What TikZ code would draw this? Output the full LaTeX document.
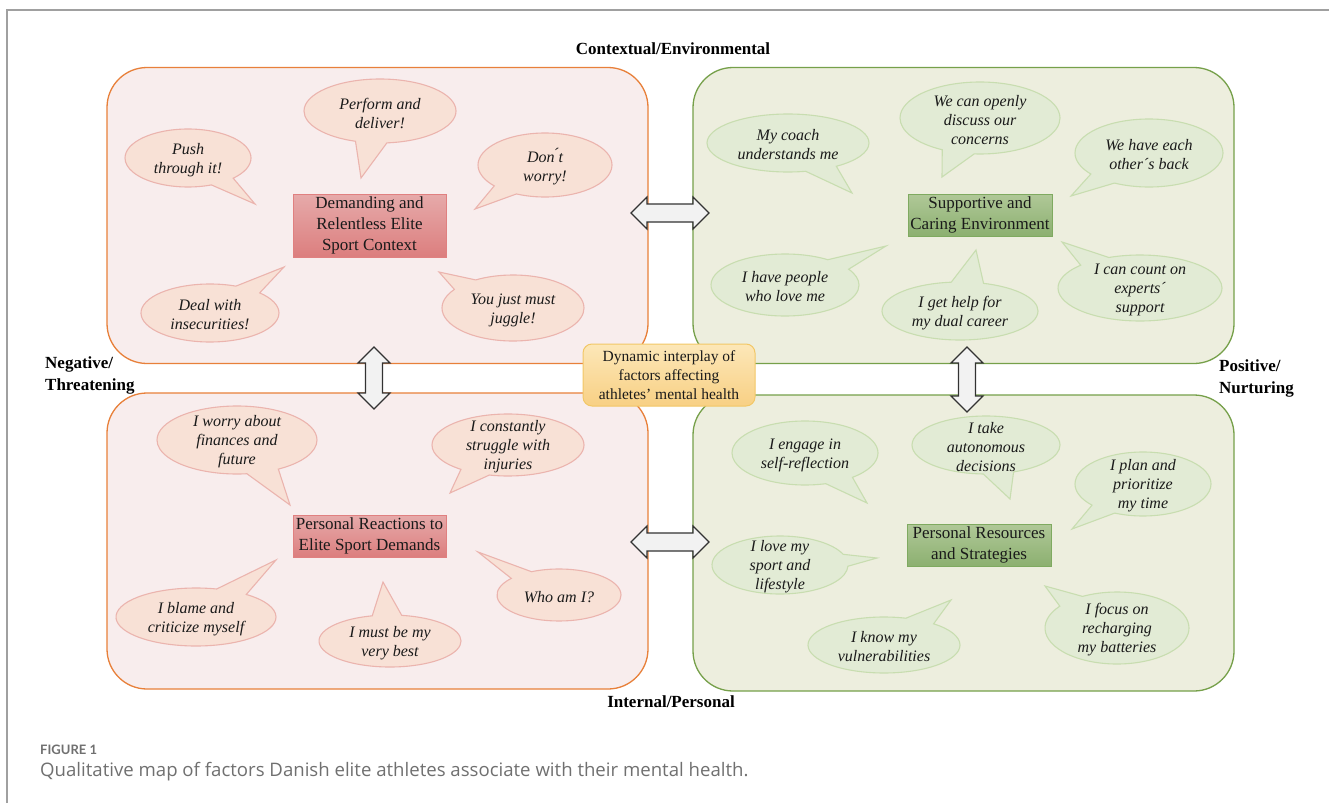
\documentclass[tikz,border=0pt]{standalone}
\usepackage{fontspec}
\setmainfont{Liberation Serif}
\newfontfamily\capfont{Lato}
\newfontfamily\capfontb{Open Sans}
\usetikzlibrary{shapes.callouts}
\definecolor{framec}{HTML}{A0A0A0}
\definecolor{oborder}{HTML}{E8803A}
\definecolor{ofill}{HTML}{F8EDED}
\definecolor{gborder}{HTML}{76A04A}
\definecolor{gfill}{HTML}{EDEEDE}
\definecolor{obubfill}{HTML}{F8E1D6}
\definecolor{obubline}{HTML}{EBB4AE}
\definecolor{gbubfill}{HTML}{E2EBD5}
\definecolor{gbubline}{HTML}{C8DDB0}
\definecolor{redtop}{HTML}{E6AAAA}
\definecolor{redbot}{HTML}{DC7E7E}
\definecolor{redline}{HTML}{E08080}
\definecolor{grntop}{HTML}{B0C898}
\definecolor{grnbot}{HTML}{8CB070}
\definecolor{grnline}{HTML}{7FAA60}
\definecolor{dyntop}{HTML}{FCE7B8}
\definecolor{dynbot}{HTML}{F8D084}
\definecolor{dynline}{HTML}{F2C766}
\definecolor{arrfill}{HTML}{F2F2F2}
\definecolor{arrline}{HTML}{333333}
\definecolor{txtc}{HTML}{1A1A1A}
\definecolor{capc}{HTML}{707070}
\newcommand\bubfont{\fontsize{16}{19}\selectfont\itshape}
\newcommand\boxfont{\fontsize{17}{21}\selectfont}
\newcommand\dynfont{\fontsize{15.5}{19}\selectfont}
\newcommand\hdfont{\fontsize{17}{22}\selectfont\bfseries}
\begin{document}
\begin{tikzpicture}[x=1pt,y=-1pt,
  bigbox/.style={draw, line width=1.3pt, rounded corners=40pt, minimum width=541pt, minimum height=296pt, inner sep=0pt},
  obig/.style={bigbox, draw=oborder, fill=ofill},
  gbig/.style={bigbox, draw=gborder, fill=gfill},
  bub/.style={ellipse callout, callout pointer arc=24, inner sep=0pt, line width=1.1pt},
  obub/.style={bub, draw=obubline, fill=obubfill},
  gbub/.style={bub, draw=gbubline, fill=gbubfill},
  btxt/.style={align=center, font=\bubfont, text=txtc, inner sep=0pt, yshift=-2pt},
  cbox/.style={rectangle, line width=1pt, inner sep=0pt, align=center, font=\boxfont, text=txtc},
  rbox/.style={cbox, draw=redline, top color=redtop, bottom color=redbot},
  gbox/.style={cbox, draw=grnline, top color=grntop, bottom color=grnbot},
  dynbox/.style={rectangle, rounded corners=9pt, draw=dynline, line width=1pt, top color=dyntop, bottom color=dynbot, align=center, font=\dynfont, text=txtc, inner sep=0pt},
  dbl/.style={draw=arrline, fill=arrfill, line width=1.1pt, line join=miter},
  hd/.style={font=\hdfont, text=black, inner sep=0pt, align=left}
]
\useasboundingbox[fill=white] (0,0) rectangle (1329,803);
% frame
\coordinate (fa) at (7,803);
\coordinate (fb) at (7,10);
\coordinate (fc) at (1329,10);
\draw[framec, line width=1.4pt] (fa) -- (fb) -- (fc);

% quadrants
\node[obig] (TL) at (377.5,215.5) {};
\node[gbig] (TR) at (963.5,215.5) {};
\node[obig] (BL) at (377.5,541) {};
\node[gbig] (BR) at (963.5,543) {};

% top-left bubbles
\node[obub, minimum width=152pt, minimum height=64pt, callout absolute pointer={(361,178)}, label={[btxt]center:{Perform and\\deliver!}}] (b1) at (380,111) {};
\node[obub, minimum width=126pt, minimum height=58pt, callout absolute pointer={(255,204)}, label={[btxt]center:{Push\\through it!}}] (b2) at (188,158) {};
\node[obub, minimum width=134pt, minimum height=64pt, callout absolute pointer={(475,209)}, label={[btxt]center:{Don\'{}t\\worry!}}] (b3) at (545,165) {};
\node[obub, minimum width=138pt, minimum height=58pt, callout absolute pointer={(284,267)}, label={[btxt]center:{Deal with\\insecurities!}}] (b4) at (210,313) {};
\node[obub, minimum width=142pt, minimum height=66pt, callout absolute pointer={(439,272)}, label={[btxt]center:{You just must\\juggle!}}] (b5) at (513,308) {};
\node[rbox, minimum width=153pt, minimum height=63pt] (c1) at (369.5,225.5) {Demanding and\\Relentless Elite\\Sport Context};

% top-right bubbles
\node[gbub, minimum width=160pt, minimum height=72pt, callout absolute pointer={(942,177)}, label={[btxt]center:{We can openly\\discuss our\\concerns}}] (g1) at (980,118) {};
\node[gbub, minimum width=162pt, minimum height=58pt, callout absolute pointer={(852,193)}, label={[btxt]center:{My coach\\understands me}}] (g2) at (788,143) {};
\node[gbub, minimum width=148pt, minimum height=68pt, callout absolute pointer={(1071,196)}, label={[btxt]center:{We have each\\other´s back}}] (g3) at (1149,153) {};
\node[gbub, minimum width=148pt, minimum height=62pt, callout absolute pointer={(886,246)}, label={[btxt]center:{I have people\\who love me}}] (g4) at (785,285) {};
\node[gbub, minimum width=156pt, minimum height=58pt, callout absolute pointer={(976,250)}, label={[btxt]center:{I get help for\\my dual career}}] (g5) at (960,311) {};
\node[gbub, minimum width=164pt, minimum height=66pt, callout absolute pointer={(1062,242)}, label={[btxt]center:{I can count on\\experts´\\support}}] (g6) at (1140,288) {};
\node[gbox, minimum width=144pt, minimum height=42pt] (c2) at (980,215) {Supportive and\\Caring Environment};

% bottom-left bubbles
\node[obub, minimum width=160pt, minimum height=68pt, callout absolute pointer={(290,505)}, label={[btxt]center:{I worry about\\finances and\\future}}] (b6) at (237,440) {};
\node[obub, minimum width=152pt, minimum height=62pt, callout absolute pointer={(450,493)}, label={[btxt]center:{I constantly\\struggle with\\injuries}}] (b7) at (508,445) {};
\node[obub, minimum width=160pt, minimum height=58pt, callout absolute pointer={(276,560)}, label={[btxt]center:{I blame and\\criticize myself}}] (b8) at (196,617) {};
\node[obub, minimum width=142pt, minimum height=52pt, callout absolute pointer={(383,582)}, label={[btxt]center:{I must be my\\very best}}] (b9) at (390,641) {};
\node[obub, minimum width=124pt, minimum height=52pt, callout absolute pointer={(478,552)}, label={[btxt]center:{Who am I?}}] (b10) at (559,595) {};
\node[rbox, minimum width=153pt, minimum height=42pt] (c3) at (369.5,536) {Personal Reactions to\\Elite Sport Demands};

% bottom-right bubbles
\node[gbub, minimum width=146pt, minimum height=64pt, callout absolute pointer={(867,503)}, label={[btxt]center:{I engage in\\self-reflection}}] (g7) at (805,453) {};
\node[gbub, minimum width=148pt, minimum height=58pt, callout absolute pointer={(1010,499)}, label={[btxt]center:{I take\\autonomous\\decisions}}] (g8) at (986,445) {};
\node[gbub, minimum width=136pt, minimum height=64pt, callout absolute pointer={(1072,529)}, label={[btxt]center:{I plan and\\prioritize\\my time}}] (g9) at (1143,484) {};
\node[gbub, minimum width=136pt, minimum height=58pt, callout absolute pointer={(877,558)}, label={[btxt]center:{I love my\\sport and\\lifestyle}}] (g10) at (780,565) {};
\node[gbub, minimum width=152pt, minimum height=56pt, callout absolute pointer={(951,600)}, label={[btxt]center:{I know my\\vulnerabilities}}] (g11) at (884,645) {};
\node[gbub, minimum width=144pt, minimum height=72pt, callout absolute pointer={(1045,586)}, label={[btxt]center:{I focus on\\recharging\\my batteries}}] (g12) at (1117,628) {};
\node[gbox, minimum width=144pt, minimum height=42pt] (c4) at (979,545) {Personal Resources\\and Strategies};

% double arrows
\draw[dbl] (631,213) -- (647,197) -- (647,204) -- (693,204) -- (693,197) -- (709,213) -- (693,229) -- (693,222) -- (647,222) -- (647,229) -- cycle;
\draw[dbl] (631,542) -- (647,526) -- (647,533) -- (693,533) -- (693,526) -- (709,542) -- (693,558) -- (693,551) -- (647,551) -- (647,558) -- cycle;
\draw[dbl] (374,347) -- (390,363) -- (382.5,363) -- (382.5,393) -- (390,393) -- (374,409) -- (358,393) -- (365.5,393) -- (365.5,363) -- (358,363) -- cycle;
\draw[dbl] (967,347) -- (983,363) -- (975.5,363) -- (975.5,396) -- (983,396) -- (967,412) -- (951,396) -- (958.5,396) -- (958.5,363) -- (951,363) -- cycle;

% centre box
\node[dynbox, minimum width=172pt, minimum height=62pt] (dyn) at (669,375) {Dynamic interplay of\\factors affecting\\athletes’ mental health};

% axis labels
\node[hd] (top) at (673,49) {Contextual/Environmental};
\node[hd, anchor=west] (left) at (45,375) {Negative/\\Threatening};
\node[hd, anchor=west] (right) at (1219,378) {Positive/\\Nurturing};
\node[hd] (bot) at (671,702) {Internal/Personal};

% caption
\node[anchor=west, inner sep=0pt, font=\capfont\bfseries\fontsize{13}{15}\selectfont, text=capc] (fig) at (40,750) {FIGURE 1};
\node[anchor=west, inner sep=0pt, font=\capfontb\fontsize{18.6}{22}\selectfont, text=capc] (cap) at (40,772) {Qualitative map of factors Danish elite athletes associate with their mental health.};
\end{tikzpicture}
\end{document}
